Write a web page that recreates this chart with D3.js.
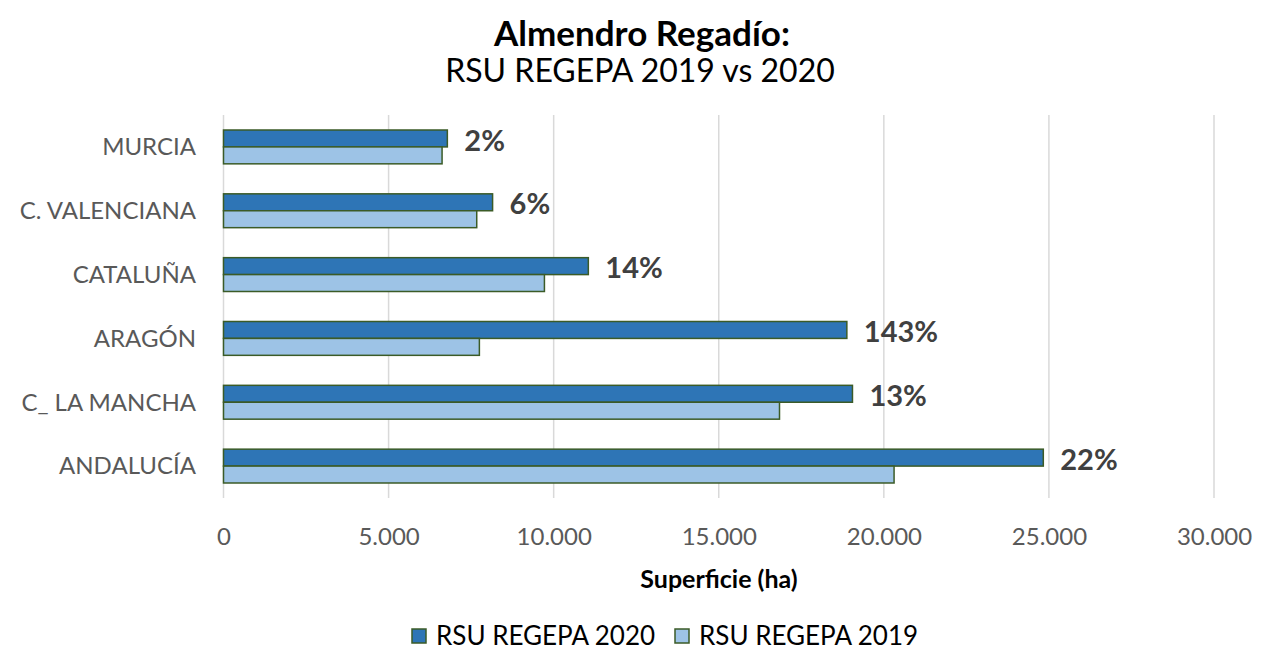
<!DOCTYPE html>
<html lang="es">
<head>
  <meta charset="UTF-8" />
  <title>Almendro Regadío: RSU REGEPA 2019 vs 2020</title>
  <script src="https://d3js.org/d3.v7.min.js"></script>
  <style>
    body { margin: 0; background: #fff; font-family: Lato, "Open Sans", sans-serif; }
    svg text { font-family: Lato, "Open Sans", sans-serif; }
  </style>
</head>
<body>
  <div id="chart"></div>
  <script>
    // ---------- DATA ----------
    const regions = ["MURCIA", "C. VALENCIANA", "CATALUÑA", "ARAGÓN", "C_ LA MANCHA", "ANDALUCÍA"];
    const values2020 = [6780, 8150, 11050, 18880, 19050, 24830];
    const values2019 = [6620, 7670, 9720, 7750, 16840, 20310];
    const changeLabels = ["2%", "6%", "14%", "143%", "13%", "22%"];
    const xTicks = [0, 5000, 10000, 15000, 20000, 25000, 30000];
    const seriesNames = ["RSU REGEPA 2020", "RSU REGEPA 2019"];
    const seriesColors = ["#2e75b6", "#9dc3e6"];

    const width = 1276, height = 650;
    const plotLeft = 223.5, plotRight = 1214, plotTop = 115, plotBottom = 498;
    const strokeCol = "#3b5b27";

    const svg = d3.select("#chart").append("svg")
      .attr("width", width).attr("height", height);

    const x = d3.scaleLinear().domain([0, 30000]).range([plotLeft, plotRight]);
    const y = d3.scaleBand().domain(regions).range([plotTop, plotBottom])
      .paddingInner(0.47).paddingOuter(0.235);
    const y2 = d3.scaleBand().domain(["2020", "2019"]).range([0, y.bandwidth()]);

    // title
    svg.append("text").attr("x", 642).attr("y", 46)
      .attr("text-anchor", "middle").attr("font-size", 35).attr("font-weight", "bold")
      .attr("fill", "#000").text("Almendro Regadío:");
    svg.append("text").attr("x", 640).attr("y", 82)
      .attr("text-anchor", "middle").attr("font-size", 32)
      .attr("fill", "#000").text("RSU REGEPA 2019 vs 2020");

    // gridlines
    svg.append("g").selectAll("line").data(xTicks).join("line")
      .attr("x1", d => x(d)).attr("x2", d => x(d))
      .attr("y1", plotTop).attr("y2", plotBottom)
      .attr("stroke", "#d9d9d9").attr("stroke-width", 1.5);

    // x axis labels
    const xAxis = d3.axisBottom(x).tickValues(xTicks)
      .tickFormat(d => d3.format(",")(d).replace(/,/g, "."))
      .tickSize(0).tickPadding(0);
    const gx = svg.append("g").attr("transform", `translate(0,${plotBottom})`).call(xAxis);
    gx.select(".domain").remove();
    gx.selectAll("text").attr("font-size", 24).attr("fill", "#595959")
      .attr("dy", null).attr("y", 47);

    // y axis labels
    const yAxis = d3.axisLeft(y).tickSize(0).tickPadding(0);
    const gy = svg.append("g").attr("transform", `translate(196,0)`).call(yAxis);
    gy.select(".domain").remove();
    gy.selectAll("text").attr("font-size", 24).attr("fill", "#595959")
      .attr("dy", "0.35em");

    // bars
    const groups = svg.append("g").selectAll("g").data(regions).join("g")
      .attr("transform", d => `translate(0,${y(d)})`);

    groups.append("rect")
      .attr("x", x(0)).attr("y", y2("2020"))
      .attr("width", (d, i) => x(values2020[i]) - x(0))
      .attr("height", y2.bandwidth())
      .attr("fill", seriesColors[0]).attr("stroke", strokeCol).attr("stroke-width", 1.5);

    groups.append("rect")
      .attr("x", x(0)).attr("y", y2("2019"))
      .attr("width", (d, i) => x(values2019[i]) - x(0))
      .attr("height", y2.bandwidth())
      .attr("fill", seriesColors[1]).attr("stroke", strokeCol).attr("stroke-width", 1.5);

    // change labels
    groups.append("text")
      .attr("x", (d, i) => x(Math.max(values2020[i], values2019[i])) + 17)
      .attr("y", y2("2020") + y2.bandwidth() / 2 + 2)
      .attr("dy", "0.35em")
      .attr("font-size", 29).attr("font-weight", "bold").attr("fill", "#404040")
      .text((d, i) => changeLabels[i]);

    // axis title
    svg.append("text").attr("x", 719).attr("y", 588)
      .attr("text-anchor", "middle").attr("font-size", 25).attr("font-weight", "bold")
      .attr("fill", "#000").text("Superficie (ha)");

    // legend
    const legendX = [412, 675];
    const legend = svg.append("g").selectAll("g").data(seriesNames).join("g")
      .attr("transform", (d, i) => `translate(${legendX[i]},629)`);
    legend.append("rect").attr("width", 14).attr("height", 14)
      .attr("fill", (d, i) => seriesColors[i]).attr("stroke", strokeCol).attr("stroke-width", 1.5);
    legend.append("text").attr("x", 24).attr("y", 7).attr("dy", "0.35em")
      .attr("font-size", 26).attr("fill", "#000").text(d => d);
  </script>
</body>
</html>
